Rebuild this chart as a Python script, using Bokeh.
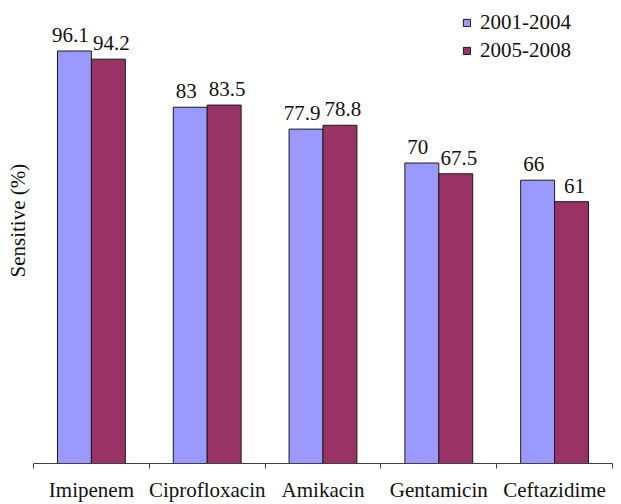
from bokeh.plotting import figure
from bokeh.models import Range1d, FixedTicker, Legend, LegendItem, Title
from bokeh.core.properties import value
from bokeh.embed import file_html
from bokeh.resources import INLINE

categories = ["Imipenem", "Ciprofloxacin", "Amikacin", "Gentamicin", "Ceftazidime"]
series_names = ["2001-2004", "2005-2008"]
values_2001_2004 = [96.1, 83, 77.9, 70, 66]
values_2005_2008 = [94.2, 83.5, 78.8, 67.5, 61]
y_label = "Sensitive (%)"

FONT = "Liberation Serif"
FS = "21px"
C1 = "#9999FF"
C2 = "#993366"

n = len(categories)
centers = [i + 0.5 for i in range(n)]
bw = 0.293
x1 = [c - bw / 2 for c in centers]
x2 = [c + bw / 2 for c in centers]

p = figure(width=621, height=504, x_range=Range1d(0, n), y_range=Range1d(0, 106),
           output_backend="svg", toolbar_location=None,
           min_border_left=32, min_border_right=9, min_border_top=8, min_border_bottom=41)
p.outline_line_color = None
p.grid.visible = False
p.background_fill_color = "white"
p.border_fill_color = "white"

r1 = p.vbar(x=x1, top=values_2001_2004, width=bw, fill_color=C1, line_color="#1a1a1a", line_width=1)
r2 = p.vbar(x=x2, top=values_2005_2008, width=bw, fill_color=C2, line_color="#1a1a1a", line_width=1)

for xs, vals, dx in ((x1, values_2001_2004, -4), (x2, values_2005_2008, 3)):
    p.text(x=xs, y=vals, text=[f"{v:g}" for v in vals], text_font=value(FONT),
           text_font_size=FS, text_align="center", text_baseline="bottom",
           x_offset=dx, y_offset=-9, text_color="#111111")

# x axis: labels at centers, tick marks at category boundaries
p.xaxis.ticker = FixedTicker(ticks=centers, minor_ticks=list(range(n + 1)))
p.xaxis.major_label_overrides = {c: lab for c, lab in zip(centers, categories)}
p.xaxis.major_tick_out = 0
p.xaxis.major_tick_in = 0
p.xaxis.minor_tick_out = 5
p.xaxis.minor_tick_in = 0
p.xaxis.minor_tick_line_color = "#404040"
p.xaxis.axis_line_color = "#404040"
p.xaxis.major_label_standoff = 9
p.xaxis.major_label_text_font = FONT
p.xaxis.major_label_text_font_size = FS
p.xaxis.major_label_text_color = "#111111"

p.yaxis.visible = False
ttl = Title(text=y_label, align="left", offset=186, standoff=7,
            text_font=FONT, text_font_size=FS, text_font_style="normal",
            text_color="#111111")
p.add_layout(ttl, "left")

legend = Legend(items=[LegendItem(label=series_names[0], renderers=[r1]),
                       LegendItem(label=series_names[1], renderers=[r2])],
                location=(429, 400), glyph_width=9, glyph_height=9, label_standoff=9,
                label_text_font=FONT, label_text_font_size=FS, label_text_color="#111111",
                padding=0, margin=0, spacing=3, border_line_color=None,
                background_fill_alpha=0)
p.add_layout(legend)

open("out.html", "w").write(file_html(p, INLINE))
